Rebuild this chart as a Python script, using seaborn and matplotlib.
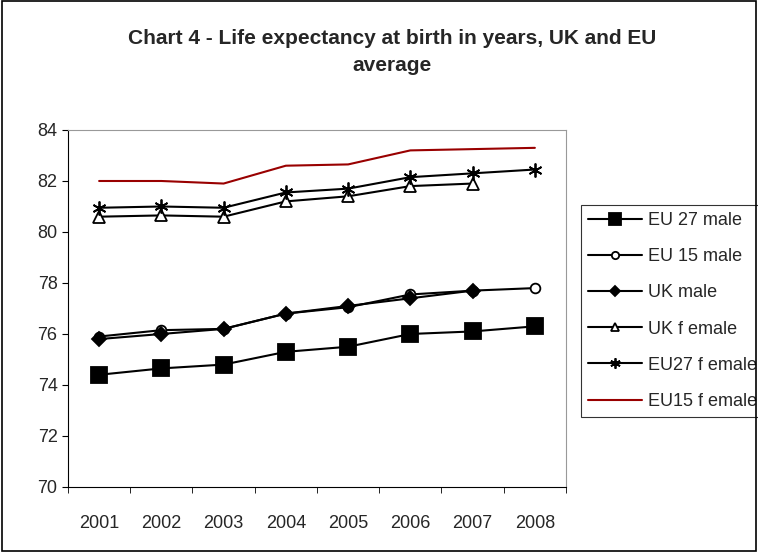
import seaborn as sns
import pandas as pd
import numpy as np
import matplotlib.pyplot as plt

years = ["2001", "2002", "2003", "2004", "2005", "2006", "2007", "2008"]
eu27_male = [74.4, 74.65, 74.8, 75.3, 75.5, 76.0, 76.1, 76.3]
eu15_male = [75.9, 76.15, 76.2, 76.8, 77.05, 77.55, 77.7, 77.8]
uk_male = [75.8, 76.0, 76.2, 76.8, 77.1, 77.4, 77.7, np.nan]
uk_female = [80.6, 80.65, 80.6, 81.2, 81.4, 81.8, 81.9, np.nan]
eu27_female = [80.95, 81.0, 80.95, 81.55, 81.7, 82.15, 82.3, 82.45]
eu15_female = [82.0, 82.0, 81.9, 82.6, 82.65, 83.2, 83.25, 83.3]

series = {
    "EU 27 male": eu27_male,
    "EU 15 male": eu15_male,
    "UK male": uk_male,
    "UK f emale": uk_female,
    "EU27 f emale": eu27_female,
    "EU15 f emale": eu15_female,
}

# marker, size, face colour, line colour
styles = {
    "EU 27 male": ("s", 11, "black", "black"),
    "EU 15 male": ("o", 7, "white", "black"),
    "UK male": ("D", 7, "black", "black"),
    "UK f emale": ("^", 8, "white", "black"),
    "EU27 f emale": ((6, 2, 0), 10, "black", "black"),
    "EU15 f emale": (None, 0, "none", "#990000"),
}

sns.set_style("white")
plt.rcParams["font.family"] = ["Liberation Sans", "DejaVu Sans"]

fig = plt.figure(figsize=(7.58, 5.52), dpi=100)
ax = fig.add_axes([0.0897, 0.1178, 0.657, 0.6467])

x = np.arange(len(years))
for name, vals in series.items():
    m, ms, fc, c = styles[name]
    df = pd.DataFrame({"x": x, "y": vals}).dropna()
    sns.lineplot(data=df, x="x", y="y", ax=ax, color=c, marker=m, markersize=ms,
                 markerfacecolor=fc, markeredgecolor="black", markeredgewidth=1.3,
                 linewidth=1.5, label=name)

ax.set_xlim(-0.5, 7.5)
ax.set_ylim(70, 84)
ax.set_yticks(range(70, 85, 2))
ax.set_xticks(x)
ax.set_xticklabels(years)
ax.set_xticks(np.arange(-0.5, 8, 1), minor=True)
ax.set_xlabel("")
ax.set_ylabel("")
ax.tick_params(axis="y", labelsize=13, length=4, direction="out", color="black", left=True)
ax.tick_params(axis="x", which="major", labelsize=13, length=0, pad=20)
ax.tick_params(axis="x", which="minor", length=4, direction="out", color="black", bottom=True)
for s in ["top", "right"]:
    ax.spines[s].set_color("#999999")
for s in ["left", "bottom"]:
    ax.spines[s].set_color("black")

fig.suptitle("Chart 4 - Life expectancy at birth in years, UK and EU\naverage",
             x=0.517, y=0.947, fontsize=15, fontweight="bold", linespacing=1.5)

leg = ax.legend(loc="upper left", bbox_to_anchor=(1.03, 0.79), frameon=True,
                fancybox=False, edgecolor="black", fontsize=13, handlelength=3.0,
                markerscale=0.75, borderpad=0.4, labelspacing=1.06, handletextpad=0.3,
                borderaxespad=0)
leg.get_frame().set_linewidth(0.8)

fig.patches.append(plt.Rectangle((0.002, 0.002), 0.996, 0.996, transform=fig.transFigure,
                                 fill=False, edgecolor="black", linewidth=1.2))

fig.savefig("out.png", dpi=100)
